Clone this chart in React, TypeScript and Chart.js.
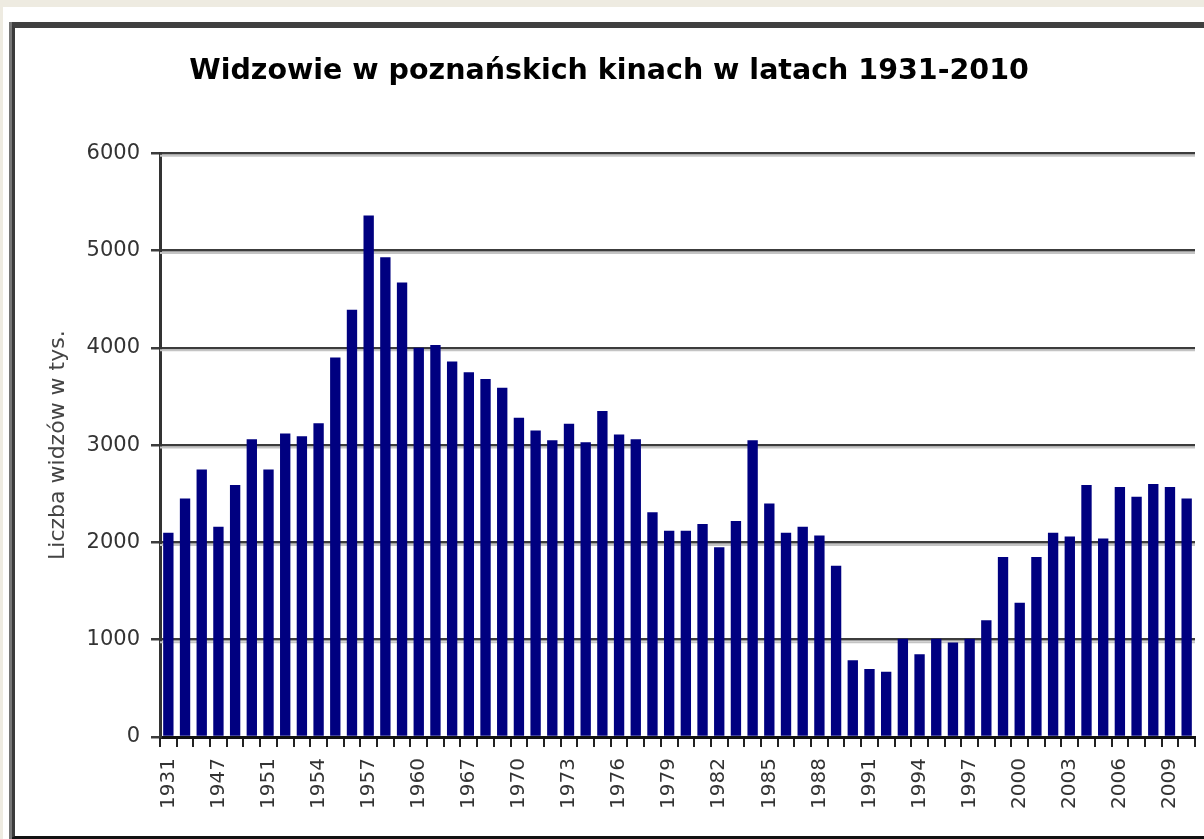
import React, { useEffect, useRef } from "react";
import { Chart, registerables } from "chart.js";

Chart.register(...registerables);

const chartTitle = "Widzowie w poznańskich kinach w latach 1931-2010";
const yAxisTitle = "Liczba widzów w tys.";

const years = [
  "1931", "1935", "1938", "1947", "1949", "1950", "1951", "1952", "1953",
  "1954", "1955", "1956", "1957", "1958", "1959", "1960", "1961", "1964",
  "1967", "1968", "1969", "1970", "1971", "1972", "1973", "1974", "1975",
  "1976", "1977", "1978", "1979", "1980", "1981", "1982", "1983", "1984",
  "1985", "1986", "1987", "1988", "1989", "1990", "1991", "1992", "1993",
  "1994", "1995", "1996", "1997", "1998", "1999", "2000", "2001", "2002",
  "2003", "2004", "2005", "2006", "2007", "2008", "2009", "2010",
];

const viewers = [
  2100, 2450, 2750, 2160, 2590, 3060, 2750, 3120, 3090,
  3225, 3900, 4390, 5360, 4930, 4670, 4000, 4030, 3860,
  3750, 3680, 3590, 3280, 3150, 3050, 3220, 3030, 3350,
  3110, 3060, 2310, 2120, 2120, 2190, 1950, 2220, 3050,
  2400, 2100, 2160, 2070, 1760, 790, 700, 670, 1010,
  850, 1010, 970, 1010, 1200, 1850, 1380, 1850, 2100,
  2060, 2590, 2040, 2570, 2470, 2600, 2570, 2450,
];

const yTicks = [0, 1000, 2000, 3000, 4000, 5000, 6000];
const labelEvery = 3;

const FONT = '"DejaVu Sans", Verdana, sans-serif';

const gridShadow = {
  id: "gridShadow",
  beforeDatasetsDraw(chart: any) {
    const { ctx, chartArea } = chart;
    const y = chart.scales.y;
    ctx.save();
    ctx.strokeStyle = "#c4c4c4";
    ctx.lineWidth = 2;
    for (const v of yTicks) {
      if (v === 0) continue;
      const py = y.getPixelForValue(v) + 2.5;
      ctx.beginPath();
      ctx.moveTo(chartArea.left, py);
      ctx.lineTo(chartArea.right, py);
      ctx.stroke();
    }
    ctx.restore();
  },
};

export default function App() {
  const ref = useRef<HTMLCanvasElement>(null);

  useEffect(() => {
    if (!ref.current) return;
    const chart = new Chart(ref.current, {
      type: "bar",
      data: {
        labels: years,
        datasets: [
          {
            data: viewers,
            backgroundColor: "#000080",
            borderWidth: 0,
            barPercentage: 0.62,
            categoryPercentage: 1,
          },
        ],
      },
      plugins: [gridShadow],
      options: {
        responsive: false,
        animation: false,
        devicePixelRatio: 1,
        events: [],
        layout: { padding: { left: 0, right: 9, top: 0, bottom: 0 } },
        plugins: {
          legend: { display: false },
          tooltip: { enabled: false },
          title: {
            display: true,
            text: chartTitle,
            color: "#000",
            font: { family: FONT, size: 28.5, weight: "bold" },
            padding: { top: 54, bottom: 65 },
          },
        },
        scales: {
          x: {
            offset: true,
            grid: {
              offset: true,
              drawOnChartArea: false,
              drawTicks: true,
              tickLength: 10,
              color: "#222",
              lineWidth: 2,
            },
            border: { display: true, color: "#111", width: 3 },
            ticks: {
              autoSkip: false,
              maxRotation: 90,
              minRotation: 90,
              padding: 11,
              color: "#333",
              font: { family: FONT, size: 20 },
              callback: (_v: any, i: number) => (i % labelEvery === 0 ? years[i] : ""),
            },
            afterFit: (s: any) => {
              s.height = 102;
              s.paddingLeft = 0;
              s.paddingRight = 0;
            },
          },
          y: {
            min: 0,
            max: 6000,
            grid: {
              color: "#3c3c3c",
              lineWidth: 2.5,
              drawTicks: true,
              tickLength: 9,
            },
            border: { display: true, color: "#333", width: 3 },
            ticks: {
              stepSize: 1000,
              padding: 11,
              color: "#333",
              font: { family: FONT, size: 21 },
              callback: (v: any) => String(v),
            },
            title: {
              display: true,
              text: yAxisTitle,
              color: "#444",
              font: { family: FONT, size: 22 },
              padding: { top: 22, bottom: 0 },
            },
            afterFit: (s: any) => {
              s.width = 137;
            },
          },
        },
      },
    });
    return () => chart.destroy();
  }, []);

  return (
    <div style={{ position: "fixed", inset: 0, background: "#eeebe1", overflow: "hidden" }}>
      <div style={{ position: "absolute", left: 3, top: 7, right: 0, bottom: 0, background: "#fff" }} />
      <div
        style={{
          position: "absolute",
          left: 9,
          top: 22,
          width: 1300,
          height: 817,
          boxSizing: "border-box",
          borderTop: "6px solid #404040",
          borderLeft: "6px solid #3a3a3a",
          borderBottom: "3px solid #111",
        }}
      />
      <div style={{ position: "absolute", left: 9, top: 22, width: 3, height: 817, background: "#777" }} />
      <canvas ref={ref} width={1181} height={839} style={{ position: "absolute", left: 23, top: 0 }} />
    </div>
  );
}
